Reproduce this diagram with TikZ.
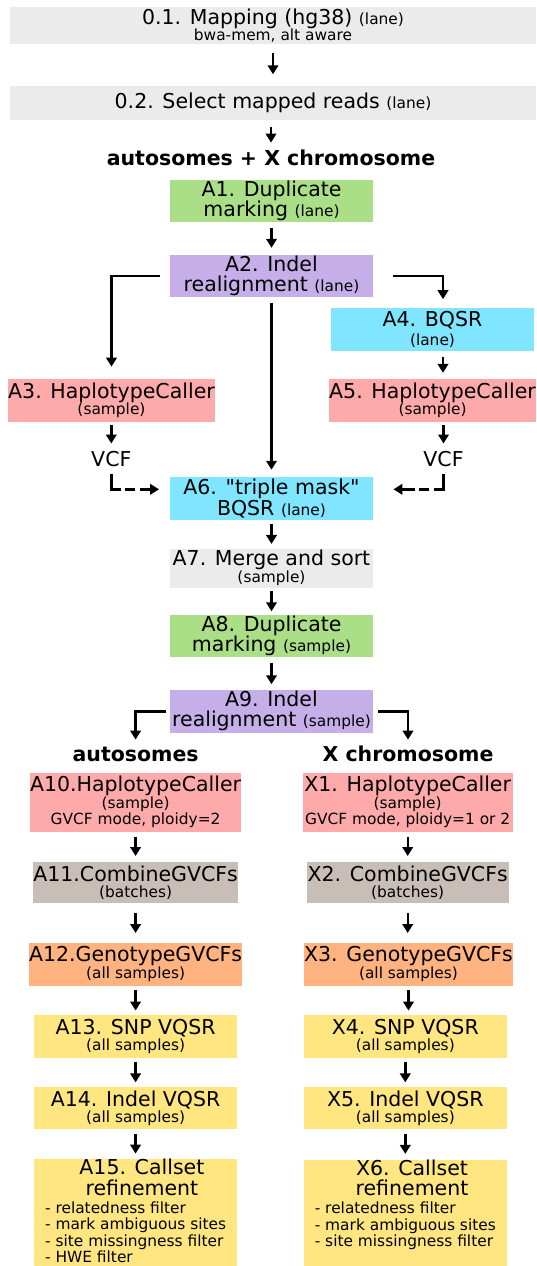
\documentclass[tikz,border=0pt]{standalone}
\usepackage{fontspec}
\setmainfont{DejaVu Sans}
\usepackage{tikz}
\usetikzlibrary{arrows.meta,calc,positioning}
\definecolor{mapgray}{RGB}{235,235,235}
\definecolor{dupgreen}{RGB}{170,222,135}
\definecolor{realpurple}{RGB}{198,175,233}
\definecolor{bqsrcyan}{RGB}{128,229,255}
\definecolor{hcpink}{RGB}{255,170,170}
\definecolor{combtaupe}{RGB}{200,190,183}
\definecolor{genoorange}{RGB}{255,179,128}
\definecolor{vqsryellow}{RGB}{255,230,128}
\newcommand{\mainsize}{\fontsize{20.5}{20}\selectfont}
\newcommand{\smsize}{\fontsize{15.4}{16}\selectfont}

\begin{document}
\begin{tikzpicture}[x=1pt,y=-1pt,
    stepbox/.style={rectangle,inner sep=0pt,align=center,font=\mainsize,
        minimum width=202.5pt,minimum height=42.7pt},
    lbl/.style={inner sep=0pt,font=\mainsize,text height=15pt,text depth=0pt,anchor=base},
    hdr/.style={lbl,font=\bfseries\mainsize},
    arr/.style={line width=2.4pt,-{Triangle[width=10.5pt,length=9pt]}},
    dsh/.style={arr,dash pattern=on 25pt off 4.5pt on 10pt off 4.5pt on 40pt}]
    \useasboundingbox (0,0) rectangle (536,1266);
    \clip (0,0) rectangle (536,1266);

    % mapping
    \node[stepbox,fill=mapgray,minimum width=526pt,minimum height=36.3pt] (map) at (273,25.6)
        {0.1. Mapping (hg38) {\smsize(lane)}\\[-3.7pt]{\smsize bwa-mem, alt aware}};
    \node[stepbox,fill=mapgray,minimum width=526pt,minimum height=34.8pt] (sel) at (273,102.9)
        {0.2. Select mapped reads {\smsize(lane)}};
    \node[hdr] (allchr) at (271,165.8) {autosomes + X chromosome};

    % lane level
    \node[stepbox,fill=dupgreen,minimum height=42.4pt] (a1) at (271.5,200.8)
        {A1. Duplicate\\[-0.5pt]marking {\smsize(lane)}};
    \node[stepbox,fill=realpurple,minimum height=42.4pt] (a2) at (271.5,276)
        {A2. Indel\\realignment {\smsize(lane)}};
    \node[stepbox,fill=bqsrcyan] (a4) at (432.5,329.2) {A4. BQSR\\[-1pt]{\smsize(lane)}};
    \node[stepbox,fill=hcpink] (a3) at (111.5,400.2) {A3. HaplotypeCaller\\[-3.7pt]{\smsize(sample)}};
    \node[stepbox,fill=hcpink] (a5) at (432.5,400.2) {A5. HaplotypeCaller\\[-3.7pt]{\smsize(sample)}};
    \node[lbl] (vcfl) at (111.3,466.7) {VCF};
    \node[lbl] (vcfr) at (443.5,466.7) {VCF};
    \node[stepbox,fill=bqsrcyan] (a6) at (271.5,498.3)
        {A6. \textquotedbl triple mask\textquotedbl\\[1pt]BQSR {\smsize(lane)}};

    % sample level
    \node[stepbox,fill=mapgray,minimum height=39.5pt] (a7) at (271.5,568.3)
        {A7. Merge and sort\\[-3pt]{\smsize(sample)}};
    \node[stepbox,fill=dupgreen,minimum height=42pt] (a8) at (271.5,636)
        {A8. Duplicate\\marking {\smsize(sample)}};
    \node[stepbox,fill=realpurple,minimum height=43.5pt] (a9) at (271.5,711.3)
        {A9. Indel\\realignment {\smsize(sample)}};
    \node[hdr] (auto) at (135.6,761.2) {autosomes};
    \node[hdr] (xchr) at (408,761.2) {X chromosome};

    % autosomes
    \node[stepbox,fill=hcpink,minimum height=59pt] (a10) at (135.6,802)
        {A10.HaplotypeCaller\\[-3.7pt]{\smsize(sample)}\\[-3.7pt]{\smsize GVCF mode, ploidy=2}};
    \node[stepbox,fill=combtaupe,minimum height=41pt] (a11) at (135.6,882.9)
        {A11.CombineGVCFs\\[-3.7pt]{\smsize(batches)}};
    \node[stepbox,fill=genoorange,minimum height=42.8pt] (a12) at (135.6,964.1)
        {A12.GenotypeGVCFs\\[-3.7pt]{\smsize(all samples)}};
    \node[stepbox,fill=vqsryellow] (a13) at (135.6,1036.3) {A13. SNP VQSR\\[-3.7pt]{\smsize(all samples)}};
    \node[stepbox,fill=vqsryellow] (a14) at (135.6,1108) {A14. Indel VQSR\\[-3.7pt]{\smsize(all samples)}};
    \node[stepbox,fill=vqsryellow,minimum height=106pt] (a15) at (135.6,1213.5)
        {\hspace*{12.6pt}A15. Callset\\[0.5pt]\hspace*{12.6pt}refinement\\[-2pt]{\smsize\begin{tabular}[t]{@{}l@{}}
        - relatedness filter\\- mark ambiguous sites\\- site missingness filter\\- HWE filter
        \end{tabular}}};

    % X chromosome
    \node[stepbox,fill=hcpink,minimum width=210pt,minimum height=59pt] (x1) at (407.7,802)
        {X1. HaplotypeCaller\\[-3.7pt]{\smsize(sample)}\\[-3.7pt]{\smsize GVCF mode, ploidy=1 or 2}};
    \node[stepbox,fill=combtaupe,minimum width=202pt,minimum height=41pt] (x2) at (407.7,882.9)
        {X2. CombineGVCFs\\[-3.7pt]{\smsize(batches)}};
    \node[stepbox,fill=genoorange,minimum width=205pt,minimum height=42.8pt] (x3) at (408.5,964.1)
        {X3. GenotypeGVCFs\\[-3.7pt]{\smsize(all samples)}};
    \node[stepbox,fill=vqsryellow] (x4) at (405.3,1036.3) {X4. SNP VQSR\\[-3.7pt]{\smsize(all samples)}};
    \node[stepbox,fill=vqsryellow] (x5) at (405.3,1108) {X5. Indel VQSR\\[-3.7pt]{\smsize(all samples)}};
    \node[stepbox,fill=vqsryellow,minimum height=106pt] (x6) at (405.3,1213.5)
        {\hspace*{13.4pt}X6. Callset\\[0.5pt]\hspace*{13.4pt}refinement\\[-2pt]{\smsize\begin{tabular}[t]{@{}l@{}}
        - relatedness filter\\- mark ambiguous sites\\- site missingness filter\\\phantom{-}
        \end{tabular}}};

    % arrows
    \draw[arr,shorten <=9pt,shorten >=11pt] (map) -- (map.south |- sel.north);
    \draw[arr,shorten <=6pt,shorten >=8pt] (sel.south -| allchr) -- (allchr.north);
    \draw[arr,shorten <=5.4pt,shorten >=6.8pt] (a1) -- (a2);
    \draw[arr,shorten <=9.6pt,shorten >=12pt] (a2.west) -| (a3.north);
    \draw[arr,shorten <=20.5pt,shorten >=8.5pt] (a2.east) -| ([xshift=10.5pt]a4.north);
    \draw[arr,shorten <=5.5pt,shorten >=7pt] (a2) -- (a6);
    \draw[arr,shorten <=5.8pt,shorten >=5.8pt] ([xshift=10.5pt]a4.south) -- ([xshift=10.5pt]a5.north);
    \draw[arr,shorten <=2.8pt,shorten >=8pt] (a3.south -| vcfl) -- (vcfl.north);
    \draw[arr,shorten <=2.8pt,shorten >=8pt] (a5.south -| vcfr) -- (vcfr.north);
    \draw[dsh,shorten <=7pt,shorten >=11pt] (vcfl.south) |- ([yshift=9pt]a6.west);
    \draw[dsh,shorten <=7pt,shorten >=20.5pt] (vcfr.south) |- ([yshift=9pt]a6.east);
    \draw[arr,shorten <=3.7pt,shorten >=4.4pt] (a6) -- (a7);
    \draw[arr,shorten <=2.7pt,shorten >=3.5pt] (a7) -- (a8);
    \draw[arr,shorten <=5.8pt,shorten >=5.1pt] (a8) -- (a9);
    \draw[arr,shorten <=3.8pt,shorten >=6.4pt] (a9.west) -| (auto.north);
    \draw[arr,shorten <=5.1pt,shorten >=6.4pt] (a9.east) -| (xchr.north);
    \foreach \u/\v/\s/\e in {a10/a11/5.2/6.2,a11/a12/9.3/9.5,a12/a13/4.2/4.2,a13/a14/3.8/4.1,a14/a15/4.4/5.5,
        x1/x2/5.2/6.2,x2/x3/9.3/9.5,x3/x4/4.2/4.2,x4/x5/3.8/4.1,x5/x6/4.4/5.5}
        \draw[arr,shorten <=\s pt,shorten >=\e pt] (\u.south) -- (\u.south |- \v.north);
\end{tikzpicture}
\end{document}
